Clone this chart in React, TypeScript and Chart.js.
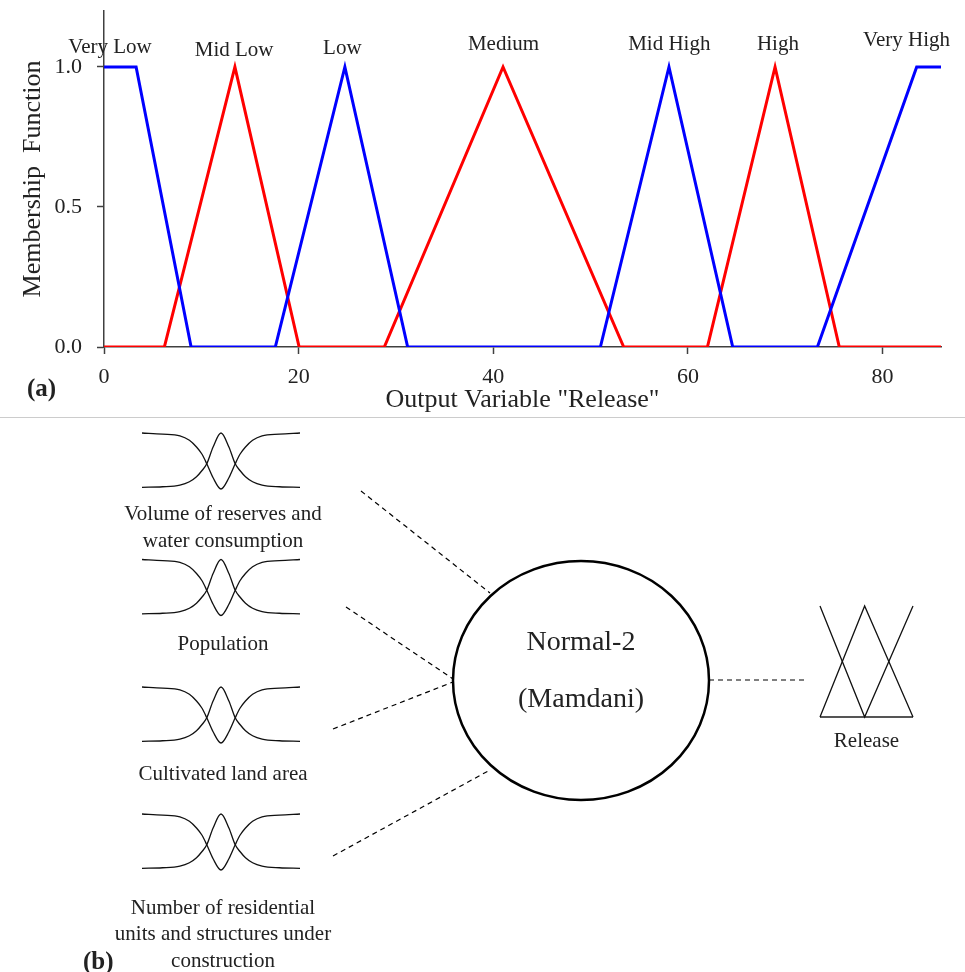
import React, { useEffect, useRef } from "react";
import { Chart, registerables } from "chart.js";

Chart.register(...registerables);

const FONT = "'Liberation Serif', 'Times New Roman', serif";
const TEXT = "#222222";
const AXIS = "#404040";

// ---------- (a) Output membership functions ----------
const mfNames = ["Very Low", "Mid Low", "Low", "Medium", "Mid High", "High", "Very High"];
const mfLabelX = [0.62, 13.37, 24.49, 41.05, 58.08, 69.24, 82.46];
const mfLabelY = [1.05, 1.038, 1.045, 1.06, 1.062, 1.062, 1.074];

// blue chain: Very Low, Low, Mid High, Very High
const blueX = [0, 3.3, 8.95, 17.6, 24.75, 31.2, 51.0, 58.05, 64.6, 73.3, 83.5, 86];
const blueY = [1, 1, 0, 0, 1, 0, 0, 1, 0, 0, 1, 1];
// red chain: Mid Low, Medium, High
const redX = [0, 6.2, 13.45, 20.05, 28.8, 41.0, 53.4, 62.0, 68.95, 75.55, 86];
const redY = [0, 0, 1, 0, 0, 1, 0, 0, 1, 0, 0];

const xTicks = [0, 20, 40, 60, 80];
const yTicks = [0, 0.5, 1.0];
const xMax = 86;
const yMax = 1.2;
const xTitle = 'Output Variable "Release"';
const yTitle = "Membership  Function";

// ---------- (b) Fuzzy inference system diagram (diagram units) ----------
const inputLabels = [
  ["Volume of reserves and", "water consumption"],
  ["Population"],
  ["Cultivated land area"],
  ["Number of residential", "units and structures under", "construction"],
];
const inputIconTop = [433, 559.5, 687, 814];
const inputLabelBaseline = [520, 650, 780, 913.5];
const labelLineGap = 26.5;
const labelCenterX = 223;
const iconLeft = 142;
const iconRight = 300;
const iconHeight = 56;
// icon shape (normalised): valley = Z + S curves, bell = gaussian-like
const iconU = [0, 0.13, 0.24, 0.3, 0.345, 0.38, 0.41, 0.45, 0.5, 0.55, 0.59, 0.62, 0.655, 0.7, 0.76, 0.87, 1];
const valleyV = [1, 0.98, 0.95, 0.87, 0.75, 0.62, 0.45, 0.2, 0, 0.2, 0.45, 0.62, 0.75, 0.87, 0.95, 0.98, 1];
const bellV = [0.03, 0.04, 0.07, 0.13, 0.22, 0.33, 0.45, 0.75, 1, 0.75, 0.45, 0.33, 0.22, 0.13, 0.07, 0.04, 0.03];

const connectorFrom = [[361, 491], [346, 607], [333, 729], [333, 856]];
const connectorTo = [[490, 593], [453, 679], [453, 682], [490, 770]];

const engineCenter = [581, 680.5];
const engineRadii = [128, 119.5];
const engineText = ["Normal-2", "(Mamdani)"];
const engineBaseline = [650, 707];

const outputLink = [[709, 680], [808, 680]];
const releaseLeft = 820;
const releaseRight = 913;
const releaseTop = 606;
const releaseBottom = 717;
const releaseU = [0, 0.48, 1];
const releaseValleyV = [1, 0, 1];
const releasePeakV = [0, 1, 0];
const releaseLabel = "Release";
const releaseLabelBaseline = 746.5;

const toPts = (xs: number[], ys: number[]) => xs.map((x, i) => ({ x, y: ys[i] }));

function App() {
  const refA = useRef<HTMLCanvasElement | null>(null);
  const refB = useRef<HTMLCanvasElement | null>(null);

  useEffect(() => {
    const labelPlugin = {
      id: "mfLabels",
      afterDatasetsDraw(chart: any) {
        const { ctx, scales } = chart;
        ctx.save();
        ctx.font = `21px ${FONT}`;
        ctx.fillStyle = TEXT;
        ctx.textAlign = "center";
        ctx.textBaseline = "alphabetic";
        mfNames.forEach((n, i) => {
          ctx.fillText(n, scales.x.getPixelForValue(mfLabelX[i]), scales.y.getPixelForValue(mfLabelY[i]));
        });
        ctx.restore();
      },
    };

    const chartA = new Chart(refA.current as HTMLCanvasElement, {
      type: "scatter",
      data: {
        datasets: [
          { data: toPts(blueX, blueY), borderColor: "#0000ff", borderWidth: 3, showLine: true, pointRadius: 0 },
          { data: toPts(redX, redY), borderColor: "#ff0000", borderWidth: 3, showLine: true, pointRadius: 0 },
        ],
      },
      options: {
        responsive: false,
        animation: false,
        devicePixelRatio: 1,
        layout: { padding: { left: 0, right: 24, top: 11, bottom: 0 } },
        plugins: { legend: { display: false }, tooltip: { enabled: false } },
        scales: {
          x: {
            type: "linear",
            min: 0,
            max: xMax,
            afterBuildTicks: (s: any) => { s.ticks = xTicks.map((v) => ({ value: v })); },
            afterFit: (s: any) => { s.height = 71; s.paddingLeft = 0; s.paddingRight = 0; },
            border: { display: true, color: AXIS, width: 1.5 },
            grid: { drawOnChartArea: false, drawTicks: true, tickLength: 7, tickColor: AXIS, tickWidth: 1.5 },
            ticks: { font: { family: FONT, size: 22 }, color: TEXT, padding: 10, maxRotation: 0, callback: (v: any) => String(v) },
            title: { display: true, text: xTitle, font: { family: FONT, size: 26 }, color: TEXT, padding: { top: 0, bottom: 2 } },
          },
          y: {
            type: "linear",
            min: 0,
            max: yMax,
            afterBuildTicks: (s: any) => { s.ticks = yTicks.map((v) => ({ value: v })); },
            afterFit: (s: any) => { s.width = 104; s.paddingTop = 0; s.paddingBottom = 0; },
            border: { display: true, color: AXIS, width: 1.5 },
            grid: { drawOnChartArea: false, drawTicks: true, tickLength: 7, tickColor: AXIS, tickWidth: 1.5 },
            ticks: { font: { family: FONT, size: 22 }, color: TEXT, padding: 15, callback: (v: any) => Number(v).toFixed(1) },
            title: { display: true, text: yTitle, font: { family: FONT, size: 26 }, color: TEXT, padding: { top: 18, bottom: 0 } },
          },
        },
      } as any,
      plugins: [labelPlugin],
    });

    // ---- diagram ----
    const iconW = iconRight - iconLeft;
    const datasets: any[] = [];
    inputIconTop.forEach((top) => {
      [valleyV, bellV].forEach((vs) => {
        datasets.push({
          data: iconU.map((u, k) => ({ x: iconLeft + u * iconW, y: top + (1 - vs[k]) * iconHeight })),
          borderColor: "#111111",
          borderWidth: 1.3,
          showLine: true,
          pointRadius: 0,
          cubicInterpolationMode: "monotone",
        });
      });
    });
    connectorFrom.forEach((p, i) => {
      datasets.push({
        data: [{ x: p[0], y: p[1] }, { x: connectorTo[i][0], y: connectorTo[i][1] }],
        borderColor: "#000000",
        borderWidth: 1.2,
        borderDash: [5, 4],
        showLine: true,
        pointRadius: 0,
      });
    });
    datasets.push({
      data: outputLink.map((p) => ({ x: p[0], y: p[1] })),
      borderColor: "#000000",
      borderWidth: 1.2,
      borderDash: [5, 4],
      showLine: true,
      pointRadius: 0,
    });
    const rW = releaseRight - releaseLeft;
    const rH = releaseBottom - releaseTop;
    [releaseValleyV, releasePeakV].forEach((vs) => {
      datasets.push({
        data: releaseU.map((u, k) => ({ x: releaseLeft + u * rW, y: releaseTop + (1 - vs[k]) * rH })),
        borderColor: "#111111",
        borderWidth: 1.3,
        showLine: true,
        pointRadius: 0,
      });
    });
    datasets.push({
      data: [{ x: releaseLeft, y: releaseBottom }, { x: releaseRight, y: releaseBottom }],
      borderColor: "#555555",
      borderWidth: 2,
      showLine: true,
      pointRadius: 0,
    });

    const diagramPlugin = {
      id: "diagramText",
      afterDatasetsDraw(chart: any) {
        const { ctx, scales } = chart;
        const X = (v: number) => scales.x.getPixelForValue(v);
        const Y = (v: number) => scales.y.getPixelForValue(v);
        ctx.save();
        ctx.beginPath();
        const cx = X(engineCenter[0]);
        const cy = Y(engineCenter[1]);
        const rx = Math.abs(X(engineCenter[0] + engineRadii[0]) - cx);
        const ry = Math.abs(Y(engineCenter[1] + engineRadii[1]) - cy);
        ctx.ellipse(cx, cy, rx, ry, 0, 0, Math.PI * 2);
        ctx.lineWidth = 2.5;
        ctx.strokeStyle = "#000000";
        ctx.stroke();
        ctx.fillStyle = TEXT;
        ctx.textAlign = "center";
        ctx.textBaseline = "alphabetic";
        ctx.font = `28px ${FONT}`;
        engineText.forEach((t, i) => ctx.fillText(t, cx, Y(engineBaseline[i])));
        ctx.font = `21px ${FONT}`;
        inputLabels.forEach((lines, i) => {
          lines.forEach((t, j) => ctx.fillText(t, X(labelCenterX), Y(inputLabelBaseline[i] + j * labelLineGap)));
        });
        ctx.fillText(releaseLabel, X((releaseLeft + releaseRight) / 2), Y(releaseLabelBaseline));
        ctx.restore();
      },
    };

    const chartB = new Chart(refB.current as HTMLCanvasElement, {
      type: "scatter",
      data: { datasets },
      options: {
        responsive: false,
        animation: false,
        devicePixelRatio: 1,
        layout: { padding: 0 },
        plugins: { legend: { display: false }, tooltip: { enabled: false } },
        scales: {
          x: { type: "linear", display: false, min: 0, max: 965 },
          y: { type: "linear", display: false, min: 418, max: 972, reverse: true },
        },
      } as any,
      plugins: [diagramPlugin],
    });

    return () => {
      chartA.destroy();
      chartB.destroy();
    };
  }, []);

  const tag: React.CSSProperties = {
    position: "absolute",
    fontFamily: FONT,
    fontWeight: "bold",
    fontSize: 25,
    lineHeight: "25px",
    color: TEXT,
    whiteSpace: "nowrap",
  };

  return (
    <div style={{ position: "absolute", left: 0, top: 0, width: 965, height: 972, background: "#ffffff", overflow: "hidden" }}>
      <canvas ref={refA} width={965} height={418} style={{ position: "absolute", left: 0, top: 0, display: "block" }} />
      <div style={{ position: "absolute", left: 0, top: 417, width: 965, height: 1, background: "#cccccc" }} />
      <canvas ref={refB} width={965} height={554} style={{ position: "absolute", left: 0, top: 418, display: "block" }} />
      <div style={{ ...tag, left: 27, top: 375 }}>(a)</div>
      <div style={{ ...tag, left: 83, top: 948 }}>(b)</div>
    </div>
  );
}

export default App;
